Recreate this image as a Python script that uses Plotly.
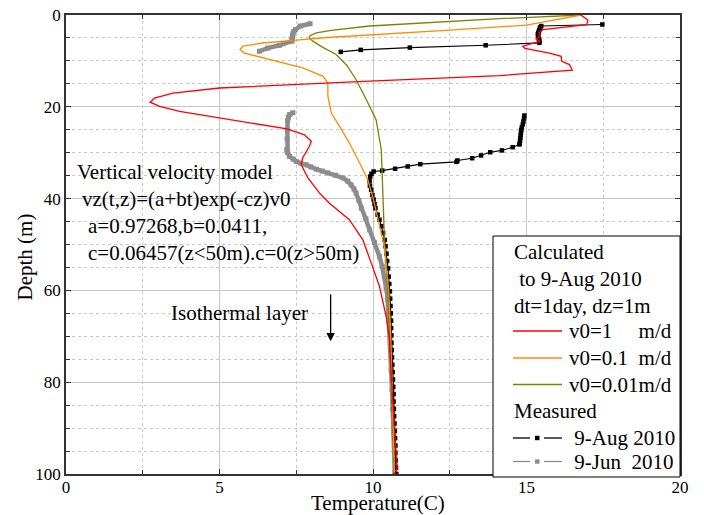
import plotly.graph_objects as go

FONT = "Liberation Serif"
NB = "\u00a0"

# ---- Calculated profiles (to 9-Aug 2010) ----
red_depth = [0, 1.1, 2.1, 3.2, 3.9, 4.6, 5.2, 5.7, 6.8, 7.3, 8.3, 9.0, 10.1, 10.8, 12.0,
             13.2, 14.4, 15.9, 17.0, 18.1, 19.0, 19.9, 21.0, 23.4, 24.8, 26.1, 27.5, 28.6,
             31.1, 32.6, 35.5, 38.8, 41.0, 44.6, 49.0, 54.0, 59.1, 65.7, 70.8, 78.0, 85.3,
             92.6, 98.4, 99.5, 100]
red_temp = [16.77, 17.0, 16.96, 15.53, 15.4, 15.45, 15.3, 15.45, 14.88, 14.95, 15.75, 16.13,
            16.15, 16.4, 16.49, 14.12, 9.89, 5.0, 3.48, 2.88, 2.74, 3.05, 3.70, 5.98, 7.2,
            7.77, 7.99, 7.93, 7.71, 7.66, 7.88, 8.26, 8.58, 9.23, 9.67, 9.94, 10.21, 10.43,
            10.54, 10.59, 10.65, 10.72, 10.79, 10.75, 10.65]

orange_depth = [0, 2.2, 3.3, 4.2, 4.9, 5.4, 6.1, 6.8, 7.5, 8.3, 9.7, 11.5, 13.3, 14.8, 17.7,
                21.3, 24.8, 27.9, 32.2, 35.9, 39.5, 42.1, 50.4, 59.9, 70, 80, 90, 100]
orange_temp = [16.77, 15.0, 12.5, 10.0, 8.5, 7.6, 6.41, 5.76, 5.67, 5.81, 6.63, 7.71, 8.36,
               8.53, 8.53, 8.64, 8.96, 9.23, 9.56, 9.83, 9.99, 10.08, 10.37, 10.51, 10.58,
               10.62, 10.66, 10.7]

olive_depth = [0, 0.8, 2.4, 3.3, 3.9, 4.5, 5.0, 5.7, 7.0, 8.6, 11.0, 14.1, 18.4, 22.8, 29.3,
               36.6, 42.4, 49.0, 60, 70, 80, 90, 100]
olive_temp = [16.77, 14.12, 9.89, 8.7, 8.15, 7.95, 7.93, 8.04, 8.35, 8.80, 9.15, 9.45, 9.78,
              10.1, 10.27, 10.32, 10.34, 10.37, 10.48, 10.55, 10.6, 10.65, 10.7]

# ---- Measured 9-Aug 2010 (None = no data) ----
aug_depth = [2.07, 2.4, 2.7, 3.0, 3.3, 3.6, 3.9, 4.2, 4.5, 4.8, 5.1, 5.4, 5.7, 6.07, 6.6, 7.1,
             7.6, 8.03, None,
             21.9, 22.5, 23.2, 23.8, 24.4, 25.0, 25.6, 26.2, 26.8, 27.4, 28.0, 28.2, 28.8,
             29.5, 29.9, 30.6, 31.2, 31.7, 32.0, 32.5, 33.0, 33.5, 33.9, 34.1, 34.6, 35.2,
             36.2, 37.2, 38.1, 39.2, 40.2, 41.2, 42.1, 43.5, 44.6, 46.0, 47.5, 49.0, 50.4,
             52.0, 53.6, 55.2, 57.0, 58.6, 60.2, 61.8, 63.4, 65.0, 66.6, 68.2, 69.8, 71.4,
             73.0, 74.6, 76.2, 77.8, 79.4, 81.0, 82.6, 84.2, 85.8, 87.4, 89.0, 90.6, 92.2,
             93.8, 95.4, 97.0, 98.6, 100]
aug_temp = [17.47, 15.48, 15.45, 15.43, 15.42, 15.40, 15.38, 15.37, 15.38, 15.39, 15.40, 15.41,
            15.42, 15.42, 13.67, 11.2, 9.6, 8.95, None,
            14.93, 14.92, 14.90, 14.88, 14.85, 14.83, 14.82, 14.81, 14.80, 14.79, 14.78,
            14.77, 14.55, 14.2, 13.82, 13.52, 13.23, 12.75, 12.72, 11.54, 11.13, 10.72, 10.3,
            10.02, 9.95, 9.91, 9.89, 9.90, 9.94, 9.98, 10.02, 10.05, 10.08, 10.15, 10.21,
            10.28, 10.33, 10.38, 10.41, 10.44, 10.46, 10.49, 10.51, 10.53, 10.55, 10.56,
            10.57, 10.58, 10.59, 10.59, 10.60, 10.60, 10.61, 10.62, 10.63, 10.64, 10.65,
            10.66, 10.67, 10.67, 10.68, 10.69, 10.70, 10.71, 10.72, 10.73, 10.73, 10.74,
            10.75, 10.76]

# ---- Measured 9-Jun 2010 ----
jun_depth = [1.9, 2.4, 3.2, 3.6, 4.0, 4.4, 4.8, 5.2, 5.7, 6.6, 7.2, 7.9, None,
             21.3, 21.7, 22.3, 23.0, 25.0, 27.0, 29.3, 30.0, 30.8, 31.4, 31.9, 32.3, 32.6,
             33.1, 33.6, 34.0, 34.4, 34.9, 35.5, 36.2, 37.0, 37.9, 38.8, 40.4, 42.1, 44.4,
             46.8, 49.6, 52.6, 54.8, 57.0, 59.5, 62.0, 65.3, 68.6, 73.0, 77.3, 81.6, 86.0,
             91.0, 96.2, 99.6]
jun_temp = [7.95, 7.63, 7.47, 7.42, 7.40, 7.38, 7.37, 7.36, 7.36, 6.95, 6.57, 6.30, None,
            7.39, 7.28, 7.24, 7.22, 7.21, 7.20, 7.19, 7.22, 7.28, 7.40, 7.50, 7.65, 7.82,
            7.98, 8.15, 8.34, 8.53, 8.78, 9.02, 9.18, 9.29, 9.38, 9.45, 9.54, 9.62, 9.77,
            9.89, 10.05, 10.21, 10.30, 10.37, 10.43, 10.48, 10.51, 10.54, 10.57, 10.59,
            10.62, 10.65, 10.68, 10.70, 10.71]

legend_titles = ["Calculated", NB + "to 9-Aug 2010", "dt=1day, dz=1m"]
legend_names = ["v0=1" + NB * 5 + "m/d", "v0=0.1" + NB * 2 + "m/d", "v0=0.01m/d",
                NB + "9-Aug 2010", NB + "9-Jun" + NB * 2 + "2010"]
measured_title = "Measured"

RED, ORANGE, OLIVE, BLACK, GRAY = "#ff0000", "#ff8c00", "#808000", "#000000", "#8c8c8c"

fig = go.Figure()

# thick band for dense 9-Jun measurements
fig.add_trace(go.Scatter(x=jun_temp, y=jun_depth, mode="lines", showlegend=False,
                         line=dict(color=GRAY, width=4.5), hoverinfo="skip"))
fig.add_trace(go.Scatter(x=jun_temp, y=jun_depth, mode="lines+markers", name=legend_names[4],
                         showlegend=False, line=dict(color=GRAY, width=1.3),
                         marker=dict(symbol="square", size=5, color=GRAY)))
fig.add_trace(go.Scatter(x=aug_temp, y=aug_depth, mode="lines+markers", name=legend_names[3],
                         showlegend=False, line=dict(color=BLACK, width=1.1),
                         marker=dict(symbol="square", size=4.5, color=BLACK)))
fig.add_trace(go.Scatter(x=olive_temp, y=olive_depth, mode="lines", name=legend_names[2],
                         showlegend=False, line=dict(color=OLIVE, width=1.3)))
fig.add_trace(go.Scatter(x=orange_temp, y=orange_depth, mode="lines", name=legend_names[1],
                         showlegend=False, line=dict(color=ORANGE, width=1.3)))
fig.add_trace(go.Scatter(x=red_temp, y=red_depth, mode="lines", name=legend_names[0],
                         showlegend=False, line=dict(color=RED, width=1.3)))

axis_common = dict(showgrid=True, gridcolor="#c8c8c8", gridwidth=1, ticks="inside", ticklen=5,
                   tickcolor="#333", showline=True, linecolor="#333", linewidth=1.5,
                   mirror="allticks", zeroline=False,
                   tickfont=dict(family=FONT, size=17, color="black"))

fig.update_xaxes(range=[0, 20], tick0=0, dtick=5, ticklabelstandoff=-3,
                 minor=dict(dtick=2.5, showgrid=True, gridcolor="#c8c8c8", griddash="dot",
                            ticks="inside", ticklen=4, tickcolor="#333"),
                 **axis_common)
fig.update_yaxes(range=[100, 0], tick0=0, dtick=20,
                 minor=dict(dtick=5, showgrid=True, gridcolor="#c8c8c8", griddash="dot",
                            ticks="inside", ticklen=4, tickcolor="#333"),
                 **axis_common)

# pixel -> paper helpers (plot area: x 66..680, y 15..474)
def px(x):
    return (x - 66) / 614


def py(y):
    return 1 - (y - 15) / 459


ann_font = dict(family=FONT, size=21, color="black")
annotations = [
    dict(text="Depth (m)", xref="paper", yref="paper", x=px(24), y=py(257.5),
         textangle=-90, showarrow=False, font=ann_font, xanchor="center", yanchor="middle"),
    dict(text="Temperature(C)", xref="paper", yref="paper", x=px(378), y=py(503.5),
         showarrow=False, font=ann_font, xanchor="center", yanchor="middle"),
    dict(text="Vertical velocity model", x=0.28, y=34.1, xref="x", yref="y", xanchor="left",
         yanchor="middle", showarrow=False, font=ann_font),
    dict(text="vz(t,z)=(a+bt)exp(-cz)v0", x=0.46, y=40.0, xref="x", yref="y", xanchor="left",
         yanchor="middle", showarrow=False, font=ann_font),
    dict(text="a=0.97268,b=0.0411,", x=0.66, y=45.9, xref="x", yref="y", xanchor="left",
         yanchor="middle", showarrow=False, font=ann_font),
    dict(text="c=0.06457(z&lt;50m).c=0(z&gt;50m)", x=0.66, y=51.8, xref="x", yref="y",
         xanchor="left", yanchor="middle", showarrow=False, font=ann_font),
    dict(text="Isothermal layer", x=3.37, y=64.9, xref="x", yref="y", xanchor="left",
         yanchor="middle", showarrow=False, font=ann_font),
    dict(text="", x=8.62, y=71.1, ax=8.62, ay=60.5, xref="x", yref="y", axref="x", ayref="y",
         showarrow=True, arrowhead=2, arrowsize=1.3, arrowwidth=1.3, arrowcolor="black"),
]

# ---- custom legend box (paper coordinates) ----
shapes = [dict(type="rect", xref="paper", yref="paper", x0=px(493), x1=px(680),
               y0=py(477), y1=py(236), line=dict(color="black", width=1),
               fillcolor="white", layer="above")]
title_rows = [251.5, 279, 306]
for t, yy in zip(legend_titles, title_rows):
    annotations.append(dict(text=t, xref="paper", yref="paper", x=px(512), y=py(yy),
                            xanchor="left", yanchor="middle", showarrow=False, font=ann_font))
annotations.append(dict(text=measured_title, xref="paper", yref="paper", x=px(512), y=py(411),
                        xanchor="left", yanchor="middle", showarrow=False, font=ann_font))

item_rows = [331, 358, 384.5, 438, 461.5]
item_colors = [RED, ORANGE, OLIVE, BLACK, GRAY]
item_marker = [False, False, False, True, True]
for name, yy, col, mk in zip(legend_names, item_rows, item_colors, item_marker):
    if mk:
        shapes.append(dict(type="line", xref="paper", yref="paper", x0=px(513), x1=px(530),
                           y0=py(yy), y1=py(yy), line=dict(color=col, width=1.3), layer="above"))
        shapes.append(dict(type="line", xref="paper", yref="paper", x0=px(544), x1=px(562),
                           y0=py(yy), y1=py(yy), line=dict(color=col, width=1.3), layer="above"))
        shapes.append(dict(type="rect", xref="paper", yref="paper", x0=px(535), x1=px(539.5),
                           y0=py(yy + 2.2), y1=py(yy - 2.2), line=dict(width=0),
                           fillcolor=col, layer="above"))
    else:
        shapes.append(dict(type="line", xref="paper", yref="paper", x0=px(513), x1=px(562),
                           y0=py(yy), y1=py(yy), line=dict(color=col, width=1.3), layer="above"))
    annotations.append(dict(text=name, xref="paper", yref="paper", x=px(566.5), y=py(yy),
                            xanchor="left", yanchor="middle", showarrow=False, font=ann_font))

fig.update_layout(
    width=704, height=515,
    margin=dict(l=66, r=24, t=15, b=41, autoexpand=False),
    paper_bgcolor="white", plot_bgcolor="white",
    font=dict(family=FONT, size=17, color="black"),
    showlegend=False,
    annotations=annotations,
    shapes=shapes,
)

fig.write_html("out.html")
